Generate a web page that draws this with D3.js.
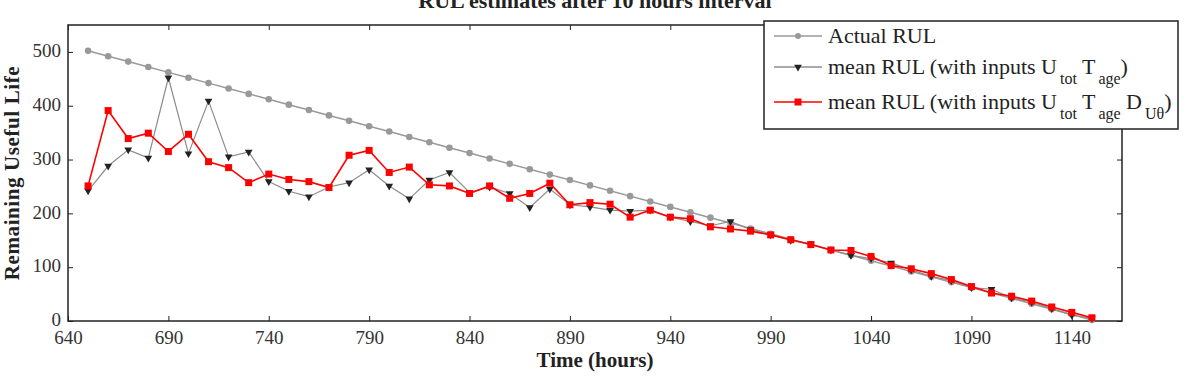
<!DOCTYPE html>
<html lang="en">
<head>
<meta charset="utf-8">
<title>RUL estimates</title>
<script src="https://cdn.jsdelivr.net/npm/d3@7"></script>
<style>
body { margin: 0; background: #fff; }
</style>
</head>
<body>
<script>
// time axis (hours), one point every 10 hours
const hours = d3.range(650, 1151, 10);

// actual remaining useful life
const actualRUL = [502, 492, 482, 472, 462, 452, 442, 432, 422, 412,
  402, 392, 382, 372, 362, 352, 342, 332, 322, 312,
  302, 292, 282, 272, 262, 252, 242, 232, 222, 212,
  202, 192, 182, 172, 162, 152, 142, 132, 122, 112,
  102, 92, 82, 72, 62, 52, 42, 32, 22, 12, 2];

// mean RUL with inputs Utot, Tage
const meanRUL2 = [242, 288, 318, 303, 452, 311, 409, 305, 314, 259,
  241, 231, 249, 257, 281, 251, 227, 262, 276, 239,
  249, 237, 211, 245, 216, 212, 206, 204, 206, 193,
  185, 177, 185, 170, 160, 150, 143, 132, 122, 116,
  108, 95, 83, 75, 62, 59, 43, 35, 23, 11, 5];

// mean RUL with inputs Utot, Tage, DUθ
const meanRUL3 = [251, 391, 339, 349, 315, 347, 296, 285, 257, 273,
  263, 259, 248, 308, 317, 276, 286, 253, 251, 237,
  251, 228, 237, 256, 216, 220, 217, 193, 206, 193,
  190, 175, 171, 167, 160, 151, 142, 132, 131, 120,
  103, 97, 88, 77, 64, 52, 46, 37, 26, 16, 6];

const xTicks = d3.range(640, 1141, 50);
const yTicks = [0, 100, 200, 300, 400, 500];

const W = 1188, H = 381;
const m = {left: 68, right: 66, top: 25, bottom: 60};
const FONT = "'Liberation Serif', 'Times New Roman', Times, serif";

const svg = d3.select("body").append("svg")
  .attr("width", W).attr("height", H)
  .style("font-family", FONT);

const x = d3.scaleLinear().domain([640, 1165]).range([m.left, W - m.right]);
const y = d3.scaleLinear().domain([0, 550]).range([H - m.bottom, m.top]);

const toPts = vals => hours.map((h, i) => [h, vals[i]]);
const line = d3.line().x(d => x(d[0])).y(d => y(d[1]));

// frame
svg.append("rect")
  .attr("x", x(640)).attr("y", y(550))
  .attr("width", x(1165) - x(640)).attr("height", y(0) - y(550))
  .attr("fill", "none").attr("stroke", "#222").attr("stroke-width", 1.5);

// axes, ticks inside
const tickLen = -5;
const fmtAx = g => {
  g.attr("font-family", null).style("font-family", FONT);
  g.select(".domain").remove();
  g.selectAll("line").attr("stroke", "#222");
  g.selectAll("text").style("font-size", "19px").style("font-family", FONT).attr("fill", "#333");
};
svg.append("g").attr("transform", `translate(0,${y(0)})`)
  .call(d3.axisBottom(x).tickValues(xTicks).tickSize(tickLen).tickPadding(10).tickFormat(d3.format("d")))
  .call(fmtAx);
svg.append("g").attr("transform", `translate(0,${y(550)})`)
  .call(d3.axisTop(x).tickValues(xTicks).tickSize(tickLen).tickFormat(""))
  .call(fmtAx);
svg.append("g").attr("transform", `translate(${x(640)},0)`)
  .call(d3.axisLeft(y).tickValues(yTicks).tickSize(tickLen).tickPadding(7).tickFormat(d3.format("d")))
  .call(fmtAx)
  .call(g => g.selectAll("text").attr("dy", "0.25em"));
svg.append("g").attr("transform", `translate(${x(1165)},0)`)
  .call(d3.axisRight(y).tickValues(yTicks).tickSize(tickLen).tickFormat(""))
  .call(fmtAx);

// series
const actual = toPts(actualRUL), s2 = toPts(meanRUL2), s3 = toPts(meanRUL3);

svg.append("path").datum(actual).attr("d", line)
  .attr("fill", "none").attr("stroke", "#999").attr("stroke-width", 1.5);
svg.append("g").selectAll("circle").data(actual).join("circle")
  .attr("cx", d => x(d[0])).attr("cy", d => y(d[1])).attr("r", 3.3)
  .attr("fill", "#999");

const tri = d3.symbol().type(d3.symbolTriangle).size(26);
svg.append("path").datum(s2).attr("d", line)
  .attr("fill", "none").attr("stroke", "#8c8c8c").attr("stroke-width", 1.2);
svg.append("g").selectAll("path").data(s2).join("path")
  .attr("d", tri)
  .attr("transform", d => `translate(${x(d[0])},${y(d[1])}) rotate(180)`)
  .attr("fill", "#222");

svg.append("path").datum(s3).attr("d", line)
  .attr("fill", "none").attr("stroke", "#ff0000").attr("stroke-width", 1.6);
svg.append("g").selectAll("rect").data(s3).join("rect")
  .attr("x", d => x(d[0]) - 3.5).attr("y", d => y(d[1]) - 3.5)
  .attr("width", 7).attr("height", 7).attr("fill", "#ff0000");

// title and axis labels
svg.append("text").attr("x", (x(640) + x(1165)) / 2).attr("y", 8)
  .attr("text-anchor", "middle").style("font-size", "22px").style("font-weight", "bold")
  .attr("fill", "#222")
  .text("RUL estimates after 10 hours interval");
svg.append("text").attr("x", (x(640) + x(1165)) / 2).attr("y", 367)
  .attr("text-anchor", "middle").style("font-size", "21px").style("font-weight", "bold")
  .attr("fill", "#222")
  .text("Time (hours)");
svg.append("text")
  .attr("transform", `translate(19,${(y(0) + y(550)) / 2}) rotate(-90)`)
  .attr("text-anchor", "middle").style("font-size", "21px").style("font-weight", "bold")
  .style("letter-spacing", "0.6px")
  .attr("fill", "#222")
  .text("Remaining Useful Life");

// legend
const lg = svg.append("g");
lg.append("rect").attr("x", 764).attr("y", 21).attr("width", 414).attr("height", 108)
  .attr("fill", "#fff").attr("stroke", "#222").attr("stroke-width", 1.5);

const rows = [
  {y: 36, stroke: "#999", mark: "circle", parts: [["Actual RUL"]]},
  {y: 67, stroke: "#8c8c8c", mark: "tri", parts: [["mean RUL (with inputs U"], ["tot", "sub"], [" T"], ["age", "sub"], [")"]]},
  {y: 102, stroke: "#ff0000", mark: "rect", parts: [["mean RUL (with inputs U"], ["tot", "sub"], [" T"], ["age", "sub"], [" D"], ["Uθ", "sub"], [")"]]}
];
rows.forEach(r => {
  lg.append("line").attr("x1", 774).attr("x2", 822).attr("y1", r.y).attr("y2", r.y)
    .attr("stroke", r.stroke).attr("stroke-width", 1.5);
  if (r.mark === "circle") {
    lg.append("circle").attr("cx", 798).attr("cy", r.y).attr("r", 3).attr("fill", "#999");
  } else if (r.mark === "tri") {
    lg.append("path").attr("d", tri).attr("transform", `translate(798,${r.y}) rotate(180)`).attr("fill", "#222");
  } else {
    lg.append("rect").attr("x", 794.5).attr("y", r.y - 3.5).attr("width", 7).attr("height", 7).attr("fill", "#ff0000");
  }
  const t = lg.append("text").attr("x", 828).attr("y", r.y + 7)
    .style("font-size", "22px").attr("fill", "#222");
  r.parts.forEach(p => {
    const ts = t.append("tspan").text(p[0]);
    if (p[1] === "sub") ts.style("font-size", "16px").attr("dy", 10).attr("dx", 3);
    else if (p !== r.parts[0]) ts.attr("dy", -10);
  });
});
</script>
</body>
</html>
